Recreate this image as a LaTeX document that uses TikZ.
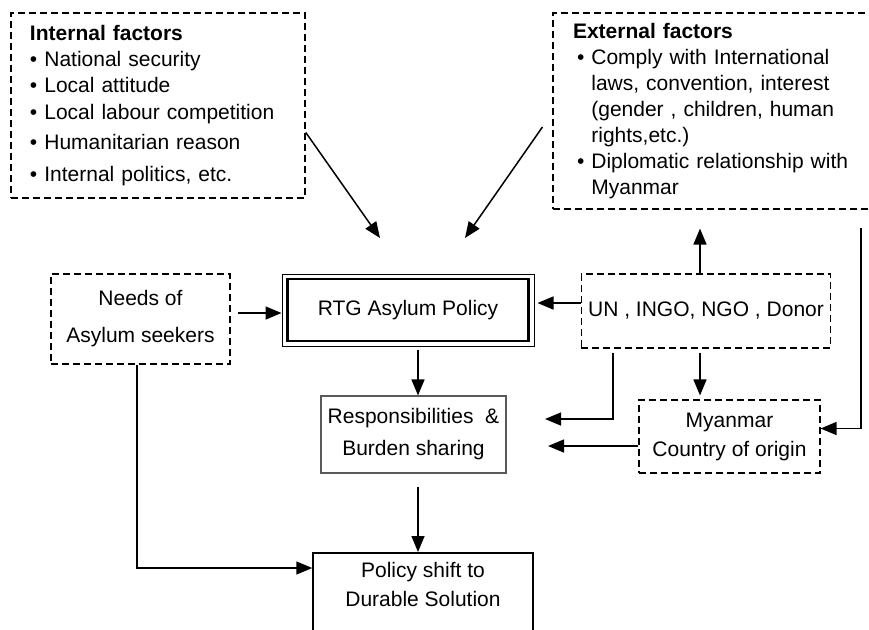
\documentclass[tikz,border=0pt]{standalone}
\usepackage{fontspec}
\setmainfont{Liberation Sans}
\usetikzlibrary{arrows.meta}
\tikzset{
  dbox/.style={draw, dash pattern=on 3.5pt off 2pt, line width=0.8pt},
  arr/.style={-{Triangle[length=8pt,width=6.5pt]}, line width=0.75pt},
}
\newcommand{\itm}{\textbullet\ }
\newcommand{\cnt}{\phantom{\textbullet\ }}

\begin{document}
\begin{tikzpicture}[x=0.5pt,y=-0.5pt,font=\fontsize{10.5}{13}\selectfont]
  \useasboundingbox (0,0) rectangle (869,629);
  \clip (0,0) rectangle (869,629);

  % factor boxes
  \node[dbox, align=left, text width=128pt, inner xsep=9.5pt, minimum width=147pt, minimum height=92.5pt] (internal) at (158,105.5)
    {\textbf{Internal factors}\\ \itm National security\\ \itm Local attitude\\[0.5pt] \itm Local labour competition\\[2pt] \itm Humanitarian reason\\[3pt] \itm Internal politics, etc.};
  \node[dbox, line width=0.55pt, align=left, text width=141pt, inner xsep=10pt, minimum width=161pt, minimum height=98pt] (external) at (714,111)
    {\textbf{External factors}\\ \hspace*{2pt}\itm Comply with International\\ \hspace*{2pt}\cnt laws, convention, interest\\ \hspace*{2pt}\cnt (gender , children, human\\ \hspace*{2pt}\cnt rights,etc.)\\ \hspace*{2pt}\itm Diplomatic relationship with\\ \hspace*{2pt}\cnt Myanmar};

  \node[dbox, align=center, minimum width=89.5pt, minimum height=45pt, font=\fontsize{10.5}{18.5}\selectfont] (needs) at (140.5,319) {Needs of\\Asylum seekers};

  % policy box with double frame
  \node[draw, line width=0.5pt, minimum width=126pt, minimum height=36pt] (rtgframe) at (408,310) {};
  \node[draw, line width=1.3pt, minimum width=120.5pt, minimum height=31pt] (rtg) at (408,310) {RTG Asylum Policy};

  \node[dbox, line width=0.55pt, minimum width=124pt, minimum height=37pt] (un) at (706,311) {UN , INGO, NGO , Donor};

  \node[draw=black!65, line width=0.55pt, align=center, minimum width=90.5pt, minimum height=38.5pt, font=\fontsize{10.5}{16}\selectfont] (resp) at (413.5,434.5) {Responsibilities\ \ \&\\Burden sharing};
  \node[dbox, line width=0.55pt, align=center, minimum width=90.5pt, minimum height=36.5pt, font=\fontsize{10.5}{14.5}\selectfont] (myanmar) at (729.5,436.5) {Myanmar\\Country of origin};

  \node[draw, line width=0.75pt, align=center, anchor=north, inner ysep=5pt, minimum width=110pt, text depth=25pt, font=\fontsize{10.5}{14.5}\selectfont] (policy) at (423,552) {Policy shift to\\Durable Solution};

  % free ends and bends
  \coordinate (tipA) at (380,238);
  \coordinate (tipB) at (465,238);
  \coordinate (tipC) at (545,419);
  \coordinate (tipD) at (548,446);
  \coordinate (rtTop) at (861,228);
  \coordinate (pIn) at ([yshift=-8pt]policy.north west);
  \coordinate (mIn) at ([yshift=4pt]myanmar.east);

  \draw[arr] (internal.east) ++(0,27) -- (tipA);
  \draw[arr] (external.west) ++(-10,16) -- (tipB);
  \draw[arr] (needs.east) ++(7,-6) coordinate (nA) -- (nA -| rtgframe.west);
  \draw[arr, shorten >=1.5pt] (un.west) ++(0,-8) coordinate (uA) -- (uA -| rtgframe.east);
  \draw[arr] (rtgframe.south) ++(10,3) coordinate (rA) -- (rA |- resp.north);
  \draw[arr] (resp.south) ++(4.5,13) coordinate (rB) -- (rB |- policy.north);
  \draw[arr] (needs.south) ++(-3.5,0) |- (pIn);
  \draw[arr, shorten >=9.5pt] (un.north) ++(-6,0) coordinate (uB) -- (uB |- external.south);
  \draw[arr] (rtTop) |- (mIn);
  \draw[arr, shorten >=2pt] (un.south) ++(-6,4) coordinate (uC) -- (uC |- myanmar.north);
  \draw[arr] (un.south) ++(-93,4) |- (tipC);
  \draw[arr] (myanmar.west) ++(0,9.5) -- (tipD);
\end{tikzpicture}
\end{document}
